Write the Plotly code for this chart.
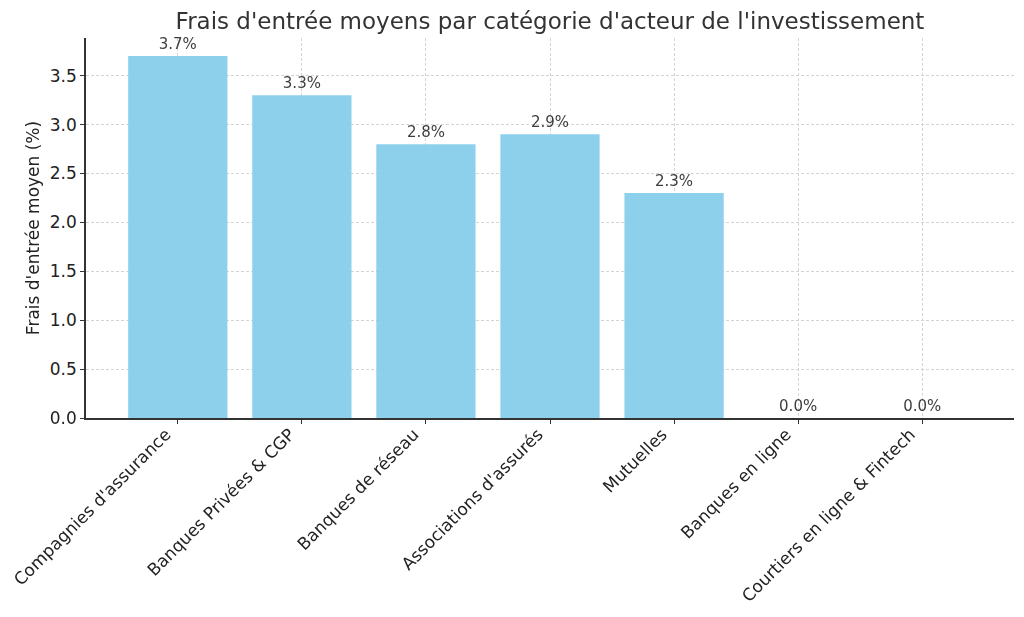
import plotly.graph_objects as go

categories = ["Compagnies d'assurance", "Banques Privées & CGP", "Banques de réseau",
              "Associations d'assurés", "Mutuelles", "Banques en ligne",
              "Courtiers en ligne & Fintech"]
values = [3.7, 3.3, 2.8, 2.9, 2.3, 0.0, 0.0]
labels = [f"{v:.1f}%" for v in values]
yticks = [0.0, 0.5, 1.0, 1.5, 2.0, 2.5, 3.0, 3.5]

fig = go.Figure()
fig.add_trace(go.Bar(
    x=list(range(len(categories))), y=values,
    width=0.8, marker=dict(color="#87CEEB", line=dict(width=0)), opacity=0.95,
    text=labels, textposition="outside", cliponaxis=False,
    textfont=dict(size=15, color="#333333"),
    hoverinfo="skip",
))

axis_common = dict(
    showline=True, linecolor="#333333", linewidth=1.5,
    ticks="outside", ticklen=4, tickwidth=1.2, tickcolor="#333333",
    showgrid=True, gridcolor="#d4d4d4", griddash="3px,2px", gridwidth=1,
    tickfont=dict(size=17, color="#222222"), zeroline=False, automargin=False,
)

fig.update_layout(
    width=1024, height=617,
    margin=dict(l=86, r=10, t=38, b=199),
    paper_bgcolor="white", plot_bgcolor="white",
    font=dict(family="DejaVu Sans", color="#333333"),
    title=dict(text="Frais d'entrée moyens par catégorie d'acteur de l'investissement",
               x=550/1024, xanchor="center", y=1-21/617, yanchor="middle",
               font=dict(size=23, color="#333333")),
    showlegend=False,
    bargap=0.2,
)
fig.update_xaxes(range=[-0.74, 6.74], tickmode="array",
                 tickvals=list(range(len(categories))), ticktext=categories,
                 tickangle=-45, ticklabelshift=-12, ticklabelstandoff=-6, **axis_common)
fig.update_yaxes(range=[0, 3.885], tickmode="array", tickvals=yticks,
                 ticktext=[f"{t:.1f}" for t in yticks],
                 title=dict(text="Frais d'entrée moyen (%)", font=dict(size=17, color="#222222"), standoff=6),
                 **axis_common)

fig.write_html("out.html")
